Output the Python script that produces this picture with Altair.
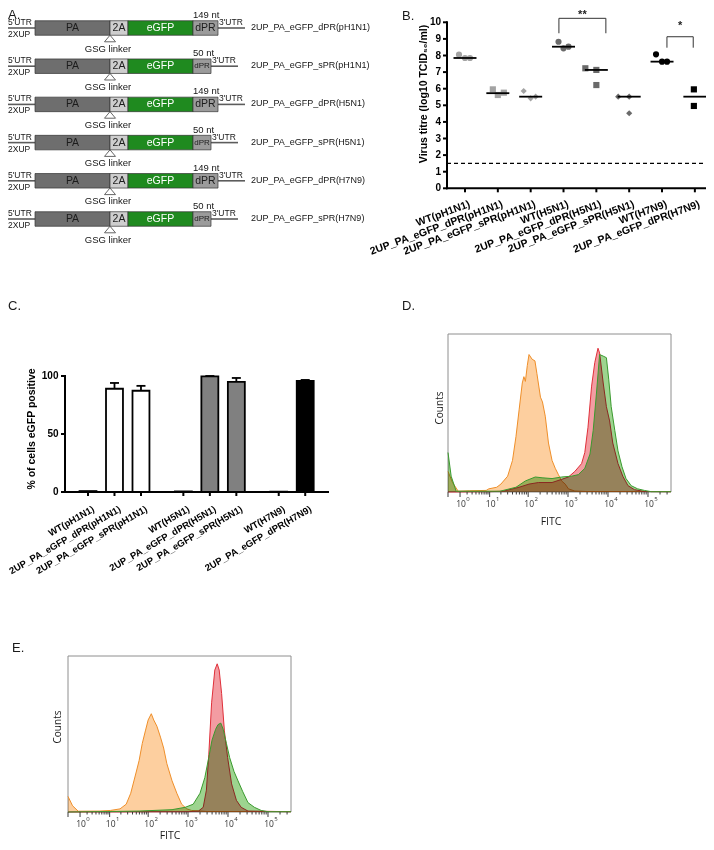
import math
import altair as alt
import pandas as pd

W, H = 698, 834
SANS = "Liberation Sans"
FLOW = "Open Sans"
INK = "#151515"

# ======================= DATA =======================
# ---- A: construct schematics
A_names = ["2UP_PA_eGFP_dPR(pH1N1)", "2UP_PA_eGFP_sPR(pH1N1)", "2UP_PA_eGFP_dPR(H5N1)",
           "2UP_PA_eGFP_sPR(H5N1)", "2UP_PA_eGFP_dPR(H7N9)", "2UP_PA_eGFP_sPR(H7N9)"]
A_pr_nt = [149, 50, 149, 50, 149, 50]
A_parts = ["PA", "2A", "eGFP", "dPR"]
A_part_len = [75, 18, 65]            # PA, 2A, eGFP (schematic units)
A_pr_len = {149: 25, 50: 18}         # packaging region drawn length
A_utr_len = 27
A_fill = ["#6e6e6e", "#cecece", "#1f8a1f", "#9b9b9b"]
A_text_col = ["#1c1c1c", "#1c1c1c", "#ffffff", "#1c1c1c"]

# ---- B: virus titres
B_groups = ["WT(pH1N1)", "2UP_PA_eGFP_dPR(pH1N1)", "2UP_PA_eGFP_sPR(pH1N1)", "WT(H5N1)",
            "2UP_PA_eGFP_dPR(H5N1)", "2UP_PA_eGFP_sPR(H5N1)", "WT(H7N9)", "2UP_PA_eGFP_dPR(H7N9)"]
B_strain = ["pH1N1", "pH1N1", "pH1N1", "H5N1", "H5N1", "H5N1", "H7N9", "H7N9"]
B_virus = ["WT", "dPR", "sPR", "WT", "dPR", "sPR", "WT", "dPR"]
B_titre = [[8.05, 7.85, 7.85], [5.96, 5.62, 5.76], [5.86, 5.42, 5.52], [8.83, 8.43, 8.53],
           [7.23, 7.13, 6.22], [5.52, 5.52, 4.52], [8.07, 7.63, 7.63], [5.96, 4.96, 5.82]]
B_line = [7.85, 5.73, 5.52, 8.53, 7.13, 5.52, 7.63, 5.52]
B_jitter_px = [[-6, 0, 5], [-5, 0, 6], [-7, 0, 5], [-5, 0, 5],
               [-11, 0, 0], [-11, 0, 0], [-6, 0, 5], [-1, -1, 15]]
B_ticks = list(range(11))
B_limit = 1.5
B_sig_text = ["**", "*"]
B_sig_from = [2.86, 6.15]
B_sig_to = [4.29, 6.95]
B_sig_top = [10.24, 9.13]
B_sig_bot = [9.34, 8.47]
B_sig_label_y = [10.45, 9.75]
B_strain_col = ["#a3a3a3", "#6a6a6a", "#000000"]

# ---- C: % eGFP positive
C_labels = ["WT(pH1N1)", "2UP_PA_eGFP_dPR(pH1N1)", "2UP_PA_eGFP_sPR(pH1N1)", "WT(H5N1)",
            "2UP_PA_eGFP_dPR(H5N1)", "2UP_PA_eGFP_sPR(H5N1)", "WT(H7N9)", "2UP_PA_eGFP_dPR(H7N9)"]
C_strain_idx = [0, 0, 0, 1, 1, 1, 2, 2]
C_variant_idx = [0, 1, 2, 0, 1, 2, 0, 1]
C_pct = [0.8, 89.0, 87.3, 0.5, 99.6, 95.0, 0.3, 95.7]
C_sd = [0.0, 5.0, 4.2, 0.0, 0.4, 3.3, 0.0, 0.9]
C_ticks = [0, 50, 100]
C_fill = ["#ffffff", "#808080", "#000000"]
C_GAP = 3.6

# ---- D / E: flow cytometry histograms (FITC value, % of frame height)
FLOW_MAX = 376000
D_orange_x = [0, 0.3, 0.8, 2.5, 8, 9.5, 15.5, 20, 30, 40, 49, 59, 71, 78, 85, 95, 105, 126, 148, 166,
              204, 229, 269, 324, 398, 479, 575, 692, 851, 1023, 1479, 3000, 10000, 50000, 376000]
D_orange_y = [13, 6, 0.5, 0.8, 1, 2, 3, 5, 10, 20, 35, 52, 69, 73, 70, 80, 87, 84, 83, 75,
              60, 57, 48, 31, 20, 15, 11, 7, 5, 2, 0.6, 0.3, 0.3, 0.3, 0.3]
D_red_x = [0, 10, 23, 59, 105, 182, 398, 692, 1023, 1479, 2188, 2630, 3162, 3890, 4677, 5623, 6166,
           7586, 9120, 10965, 13183, 17783, 23442, 31623, 45709, 81283, 376000]
D_red_y = [0, 0.2, 0.5, 3, 5, 6, 6, 8, 9.5, 13, 18, 25, 41, 67, 82, 91, 88,
           69, 54, 45, 31, 18, 10, 4, 1.5, 0.3, 0.2]
D_green_x = [0, 0.2, 0.6, 19, 49, 85, 151, 224, 398, 692, 1230, 1820, 2630, 3548, 4266, 5129, 6166,
             7586, 9120, 10471, 12023, 14791, 17783, 22387, 28184, 38019, 54954, 81283, 120226, 376000]
D_green_y = [25, 10, 0.5, 0.5, 3, 7, 9.5, 9, 8.5, 9.5, 10, 11, 15, 24, 39, 62, 87,
             86, 85, 71, 54, 39, 26, 16, 8.5, 4, 2, 1, 0.2, 0.2]

E_orange_x = [0, 0.3, 0.8, 5, 10.5, 19, 27.5, 36, 49, 59, 71, 85, 100, 120, 138, 166, 204, 245, 295,
              398, 525, 692, 933, 1230, 3000, 20000, 376000]
E_orange_y = [10, 4, 0.5, 0.6, 1, 2, 5, 12, 25, 33, 44, 52, 59, 63, 59, 55, 48, 41, 31,
              20, 12, 5, 2, 1, 0.3, 0.3, 0.3]
E_red_x = [0, 1000, 1820, 2399, 2884, 3311, 3890, 4677, 5370, 6026, 6918, 8128, 9772, 12303, 16218,
           21380, 31623, 376000]
E_red_y = [0, 0.2, 0.6, 3, 14, 37, 70, 91, 95, 91, 76, 52, 35, 18, 7.5, 3, 0.6, 0.2]
E_green_x = [0, 8.7, 59, 398, 851, 1349, 1995, 2630, 3311, 3981, 4898, 5623, 6607, 7586, 9120, 10965,
             14125, 17783, 23442, 31623, 45709, 67608, 100000, 376000]
E_green_y = [0, 0.3, 0.6, 1.5, 3, 5, 12, 22, 35, 46, 53, 56, 57, 53, 44, 35,
             26, 20, 13, 6, 3, 1, 0.2, 0.2]

FLOW_FILL = {"orange": "#fdcf9f", "red": "#f39ca2", "green": "#9dd48f"}
FLOW_LINE = {"orange": "#ef8f2a", "red": "#e0303a", "green": "#3a9a2e"}
FLOW_TICKS = [0] + [k * 10 ** d for d in range(5) for k in range(1, 10)] + [100000, 200000, 300000]
DECADES = [1, 10, 100, 1000, 10000, 100000]
DECADE_EXP = ["0", "1", "2", "3", "4", "5"]


# ======================= helpers =======================
def enc_xy(X, Y, x, y):
    return dict(x=alt.X(x, type="quantitative", scale=X, axis=None),
                y=alt.Y(y, type="quantitative", scale=Y, axis=None))


def rot_offset(angle_deg, sx, sy):
    """screen offset -> text dx/dy in the rotated frame (Vega applies dx/dy after rotation)"""
    t = math.radians(-angle_deg)
    return (sx * math.cos(t) - sy * math.sin(t), sx * math.sin(t) + sy * math.cos(t))


# ======================= PANEL A =======================
boxes, utrs, labs = [], [], []
name_x = A_utr_len + sum(A_part_len) + max(A_pr_len.values()) + A_utr_len + 6
for i, (nm, nt) in enumerate(zip(A_names, A_pr_nt)):
    utrs.append({"row": i, "x0": 0, "x1": A_utr_len})
    x = A_utr_len
    lens = A_part_len + [A_pr_len[nt]]
    for k, (part, L) in enumerate(zip(A_parts, lens)):
        boxes.append({"row": i, "part": part, "nt": nt, "x0": x, "x1": x + L, "xm": x + L / 2,
                      "y0": i - 0.19, "y1": i + 0.19, "fill": A_fill[k], "tcol": A_text_col[k]})
        x += L
    utrs.append({"row": i, "x0": x, "x1": x + A_utr_len})
    labs.append({"row": i, "name": nm, "nt_label": f"{nt} nt", "pr_x": x - A_pr_len[nt],
                 "utr3_x": x + 1, "linker_x": A_utr_len + A_part_len[0], "zero": 0,
                 "tri_y": i + 0.275, "name_x": name_x})
box_df, utr_df, lab_df = pd.DataFrame(boxes), pd.DataFrame(utrs), pd.DataFrame(labs)

A_X = alt.Scale(domain=[0, 350], range=[0, 350], nice=False, zero=False)
A_Y = alt.Scale(domain=[0, 5], range=[20, 211], nice=False, zero=False)

TRI = "M-1,0.6L0,-0.6L1,0.6Z"
A_layers = [
    alt.Chart(utr_df).mark_rule(color="#5c5c5c", strokeWidth=1.6).encode(
        x2="x1", **enc_xy(A_X, A_Y, "x0", "row")),
    alt.Chart(box_df).mark_rect(stroke="#333333", strokeWidth=0.7).encode(
        x2="x1", y2="y1", color=alt.Color("fill:N", scale=None), **enc_xy(A_X, A_Y, "x0", "y0")),
    alt.Chart(box_df).mark_text(font=SANS, baseline="middle").encode(
        text="part:N", color=alt.Color("tcol:N", scale=None),
        size=alt.condition("datum.part == 'dPR' && datum.nt < 100", alt.value(8), alt.value(10.5)),
        **enc_xy(A_X, A_Y, "xm", "row")),
    alt.Chart(lab_df).mark_text(text="5'UTR", font=SANS, fontSize=8.5, align="left", baseline="bottom",
                                dy=-1, color=INK).encode(**enc_xy(A_X, A_Y, "zero", "row")),
    alt.Chart(lab_df).mark_text(text="2XUP", font=SANS, fontSize=8.5, align="left", baseline="top",
                                dy=2, color=INK).encode(**enc_xy(A_X, A_Y, "zero", "row")),
    alt.Chart(lab_df).mark_text(text="3'UTR", font=SANS, fontSize=8.5, align="left", baseline="bottom",
                                dy=-1, color=INK).encode(**enc_xy(A_X, A_Y, "utr3_x", "row")),
    alt.Chart(lab_df).mark_text(font=SANS, fontSize=9.5, align="left", baseline="middle",
                                dy=-13, color=INK).encode(text="nt_label:N", **enc_xy(A_X, A_Y, "pr_x", "row")),
    alt.Chart(lab_df).mark_point(shape=TRI, size=121, filled=False, color="#555555", strokeWidth=0.9,
                                 opacity=1).encode(**enc_xy(A_X, A_Y, "linker_x", "tri_y")),
    alt.Chart(lab_df).mark_text(text="GSG linker", font=SANS, fontSize=9.5, align="center",
                                baseline="middle", dx=-2, dy=20.5, color=INK).encode(
        **enc_xy(A_X, A_Y, "linker_x", "row")),
    alt.Chart(lab_df).mark_text(font=SANS, fontSize=9, align="left", baseline="middle", dy=-1,
                                color=INK).encode(text="name:N", **enc_xy(A_X, A_Y, "name_x", "row")),
]
panelA = alt.layer(*A_layers)

# ======================= PANEL B =======================
B_STEP = 32.83        # px per category
B_UNIT = 16.6         # px per log10 unit
B_xmin, B_xmax = -0.548, 7.40
B_X = alt.Scale(domain=[B_xmin, B_xmax], range=[439, 700], nice=False, zero=False)
B_Y = alt.Scale(domain=[0, 10], range=[180.3, 14.3], nice=False, zero=False)

pts = []
for i, (vals, jit) in enumerate(zip(B_titre, B_jitter_px)):
    for v, j in zip(vals, jit):
        pts.append({"grp": B_groups[i], "strain": B_strain[i], "virus": B_virus[i], "titre": v,
                    "xpos": i + j / B_STEP})
b_df = pd.DataFrame(pts)
bl_df = pd.DataFrame({"x0": [i - 0.35 for i in range(8)], "x1": [i + 0.35 for i in range(8)], "y": B_line})
lim_df = pd.DataFrame({"x0": [B_xmin], "x1": [B_xmax], "y": [B_limit]})
sig_df = pd.DataFrame({"a": B_sig_from, "b": B_sig_to, "top": B_sig_top, "bot": B_sig_bot,
                       "txt": B_sig_text, "ly": B_sig_label_y})
sig_df["mid"] = (sig_df["a"] + sig_df["b"]) / 2

# hand-drawn axes (through the same scales)
b_dom = pd.DataFrame({"x0": [B_xmin], "x1": [B_xmax], "y0": [0.0], "y1": [10.0]})
b_yt = pd.DataFrame({"v": B_ticks, "x0": B_xmin, "xt": B_xmin - 4 / B_STEP,
                     "lab": [str(v) for v in B_ticks]})
b_xt = pd.DataFrame({"i": list(range(8)), "y0": 0.0, "yt": -4 / B_UNIT, "lab": B_groups})
B_ANG = 340
bdx, bdy = rot_offset(B_ANG, 3, 11)

B_layers = [
    alt.Chart(lim_df).mark_rule(color="black", strokeWidth=1.2, strokeDash=[4, 3]).encode(
        x2="x1", **enc_xy(B_X, B_Y, "x0", "y")),
    alt.Chart(b_dom).mark_rule(color="black", strokeWidth=2, strokeCap="square").encode(
        x2="x1", **enc_xy(B_X, B_Y, "x0", "y0")),
    alt.Chart(b_dom).mark_rule(color="black", strokeWidth=2, strokeCap="square").encode(
        y2="y1", **enc_xy(B_X, B_Y, "x0", "y0")),
    alt.Chart(b_yt).mark_rule(color="black", strokeWidth=2).encode(x2="xt", **enc_xy(B_X, B_Y, "x0", "v")),
    alt.Chart(b_yt).mark_text(font=SANS, fontSize=10, fontWeight="bold", color="black", align="right",
                              baseline="middle", dx=-6).encode(text="lab:N", **enc_xy(B_X, B_Y, "x0", "v")),
    alt.Chart(b_xt).mark_rule(color="black", strokeWidth=2).encode(y2="yt", **enc_xy(B_X, B_Y, "i", "y0")),
    alt.Chart(b_xt).mark_text(font=SANS, fontSize=10.5, fontWeight="bold", color="black", align="right",
                              baseline="top", angle=B_ANG, dx=bdx, dy=bdy).encode(
        text="lab:N", **enc_xy(B_X, B_Y, "i", "y0")),
    alt.Chart(pd.DataFrame({"k": [0]})).mark_text(
        text="Virus titre (log10 TCID₅₀/ml)", font=SANS, fontSize=10.5, fontWeight="bold", color="black",
        angle=270, align="center", baseline="middle").encode(x=alt.value(416), y=alt.value(86)),
    alt.Chart(b_df).mark_point(filled=True, size=38, opacity=1).encode(
        shape=alt.Shape("virus:N", scale=alt.Scale(domain=["WT", "dPR", "sPR"],
                                                   range=["circle", "square", "diamond"]), legend=None),
        color=alt.Color("strain:N", scale=alt.Scale(domain=["pH1N1", "H5N1", "H7N9"], range=B_strain_col),
                        legend=None),
        **enc_xy(B_X, B_Y, "xpos", "titre")),
    alt.Chart(bl_df).mark_rule(color="black", strokeWidth=1.8).encode(x2="x1", **enc_xy(B_X, B_Y, "x0", "y")),
    alt.Chart(sig_df).mark_rule(color="#333333", strokeWidth=1).encode(x2="b", **enc_xy(B_X, B_Y, "a", "top")),
    alt.Chart(sig_df).mark_rule(color="#333333", strokeWidth=1).encode(y2="top", **enc_xy(B_X, B_Y, "a", "bot")),
    alt.Chart(sig_df).mark_rule(color="#333333", strokeWidth=1).encode(y2="top", **enc_xy(B_X, B_Y, "b", "bot")),
    alt.Chart(sig_df).mark_text(font=SANS, fontSize=11, fontWeight="bold", color="#222222",
                                baseline="middle").encode(text="txt:N", **enc_xy(B_X, B_Y, "mid", "ly")),
]
panelB = alt.layer(*B_layers)

# ======================= PANEL C =======================
C_STEP = 26.5     # px per slot
C_UNIT = 1.16     # px per percent
C_xmin, C_xmax = -0.868, 9.06
C_X = alt.Scale(domain=[C_xmin, C_xmax], range=[57, 320], nice=False, zero=False)
C_Y = alt.Scale(domain=[0, 100], range=[484, 368], nice=False, zero=False)
c_pos = [round(s * C_GAP + v, 3) for s, v in zip(C_strain_idx, C_variant_idx)]
c_df = pd.DataFrame({"pos": c_pos, "pct": C_pct, "sd": C_sd,
                     "fill": [C_fill[s] for s in C_strain_idx]})
c_df["x0"] = c_df["pos"] - 0.32
c_df["x1"] = c_df["pos"] + 0.32
c_df["top"] = c_df["pct"] + c_df["sd"]
c_df["c0"] = c_df["pos"] - 0.17
c_df["c1"] = c_df["pos"] + 0.17
c_df["zero"] = 0
ce_df = c_df[c_df["sd"] > 0]

c_dom = pd.DataFrame({"x0": [C_xmin], "x1": [C_xmax], "y0": [0.0], "y1": [100.0]})
c_yt = pd.DataFrame({"v": C_ticks, "x0": C_xmin, "xt": C_xmin - 4 / C_STEP, "lab": [str(v) for v in C_ticks]})
c_xt = pd.DataFrame({"p": c_pos, "y0": 0.0, "yt": -4 / C_UNIT, "lab": C_labels})
C_ANG = 330
cdx, cdy = rot_offset(C_ANG, 3, 12)

C_layers = [
    alt.Chart(ce_df).mark_rule(color="black", strokeWidth=1.8).encode(y2="top", **enc_xy(C_X, C_Y, "pos", "pct")),
    alt.Chart(ce_df).mark_rule(color="black", strokeWidth=1.8).encode(x2="c1", **enc_xy(C_X, C_Y, "c0", "top")),
    alt.Chart(c_df).mark_rect(stroke="black", strokeWidth=1.8).encode(
        x2="x1", y2="zero", color=alt.Color("fill:N", scale=None), **enc_xy(C_X, C_Y, "x0", "pct")),
    alt.Chart(c_dom).mark_rule(color="black", strokeWidth=2, strokeCap="square").encode(
        x2="x1", **enc_xy(C_X, C_Y, "x0", "y0")),
    alt.Chart(c_dom).mark_rule(color="black", strokeWidth=2, strokeCap="square").encode(
        y2="y1", **enc_xy(C_X, C_Y, "x0", "y0")),
    alt.Chart(c_yt).mark_rule(color="black", strokeWidth=2).encode(x2="xt", **enc_xy(C_X, C_Y, "x0", "v")),
    alt.Chart(c_yt).mark_text(font=SANS, fontSize=10, fontWeight="bold", color="black", align="right",
                              baseline="middle", dx=-6.5).encode(text="lab:N", **enc_xy(C_X, C_Y, "x0", "v")),
    alt.Chart(c_xt).mark_rule(color="black", strokeWidth=2).encode(y2="yt", **enc_xy(C_X, C_Y, "p", "y0")),
    alt.Chart(c_xt).mark_text(font=SANS, fontSize=9.5, fontWeight="bold", color="black", align="right",
                              baseline="top", angle=C_ANG, dx=cdx, dy=cdy).encode(
        text="lab:N", **enc_xy(C_X, C_Y, "p", "y0")),
    alt.Chart(pd.DataFrame({"k": [0]})).mark_text(
        text="% of cells eGFP positive", font=SANS, fontSize=10.5, fontWeight="bold", color="black",
        angle=270, align="center", baseline="middle").encode(x=alt.value(24), y=alt.value(421)),
]
panelC = alt.layer(*C_layers)

# ======================= PANELS D / E =======================
dec_df = pd.DataFrame({"v": DECADES, "exp": DECADE_EXP, "base": 0})


def flow_panel(curves, x_rng, y_rng, counts_xy, fitc_xy):
    X = alt.Scale(type="symlog", constant=1, domain=[0, FLOW_MAX], range=x_rng, nice=False, zero=False)
    Y = alt.Scale(domain=[0, 100], range=y_rng, nice=False, zero=False)
    unit = (y_rng[0] - y_rng[1]) / 100.0
    tk = pd.DataFrame({"v": FLOW_TICKS, "y0": 0.0})
    tk["yt"] = [-(5 if v in (0, 1, 10, 100, 1000, 10000, 100000) else 2.5) / unit for v in FLOW_TICKS]
    frame = pd.DataFrame({"x0": [0], "x1": [FLOW_MAX], "y0": [0], "y1": [100]})
    layers = [alt.Chart(frame).mark_rect(fillOpacity=0, stroke="#8e8e8e", strokeWidth=1).encode(
        x2="x1", y2="y1", **enc_xy(X, Y, "x0", "y0"))]
    for name, xs, ys in curves:
        df = pd.DataFrame({"fitc": xs, "count": ys})
        layers.append(alt.Chart(df).mark_area(color=FLOW_FILL[name], blend="multiply", opacity=1).encode(
            **enc_xy(X, Y, "fitc", "count")))
        layers.append(alt.Chart(df).mark_line(color=FLOW_LINE[name], strokeWidth=1).encode(
            **enc_xy(X, Y, "fitc", "count")))
    layers += [
        alt.Chart(tk).mark_rule(color="#3a3a3a", strokeWidth=1).encode(y2="yt", **enc_xy(X, Y, "v", "y0")),
        alt.Chart(dec_df).mark_text(text="10", font=FLOW, fontSize=8.5, color="#333333",
                                    baseline="middle", dx=1, dy=12).encode(**enc_xy(X, Y, "v", "base")),
        alt.Chart(dec_df).mark_text(font=FLOW, fontSize=6, color="#333333",
                                    baseline="middle", dx=8, dy=7).encode(text="exp:N", **enc_xy(X, Y, "v", "base")),
        alt.Chart(pd.DataFrame({"k": [0]})).mark_text(
            text="Counts", font=FLOW, fontSize=10, color="#1a1a1a", angle=270, align="center",
            baseline="middle").encode(x=alt.value(counts_xy[0]), y=alt.value(counts_xy[1])),
        alt.Chart(pd.DataFrame({"k": [0]})).mark_text(
            text="FITC", font=FLOW, fontSize=10.5, color="#1a1a1a", align="center",
            baseline="middle").encode(x=alt.value(fitc_xy[0]), y=alt.value(fitc_xy[1])),
    ]
    return alt.layer(*layers)


panelD = flow_panel([("orange", D_orange_x, D_orange_y), ("red", D_red_x, D_red_y),
                     ("green", D_green_x, D_green_y)], [440, 663], [484, 326], (432, 400), (543, 514))
panelE = flow_panel([("orange", E_orange_x, E_orange_y), ("red", E_red_x, E_red_y),
                     ("green", E_green_x, E_green_y)], [60, 283], [804, 648], (50, 719), (162, 828))

# ======================= panel letters =======================
one = pd.DataFrame({"k": [0]})
letters = []
for t, lx, ly in [("A.", 0, 10.5), ("B.", 394, 12), ("C.", 0, 302), ("D.", 394, 302), ("E.", 4, 644)]:
    letters.append(alt.Chart(one).mark_text(text=t, font=SANS, fontSize=13, color="#1a1a1a", align="left",
                                            baseline="alphabetic").encode(x=alt.value(lx), y=alt.value(ly)))

chart = alt.layer(panelA, panelB, panelC, panelD, panelE, *letters).resolve_scale(
    x="independent", y="independent", color="independent", shape="independent", size="independent"
).properties(
    width=W, height=H, padding=0, autosize=alt.AutoSizeParams(type="none")
).configure_view(stroke=None)

chart.save("out.html", embed_options={"renderer": "svg", "actions": False})
